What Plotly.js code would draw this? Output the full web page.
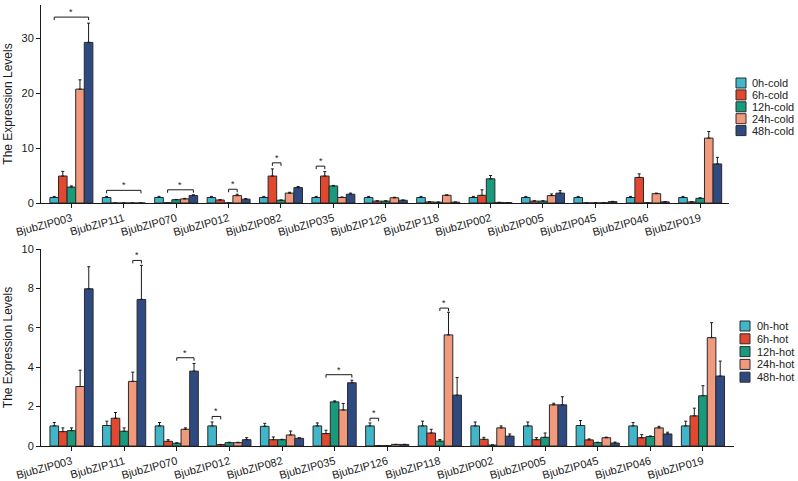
<!DOCTYPE html>
<html>
<head>
<meta charset="utf-8">
<script src="https://cdn.plot.ly/plotly-3.0.1.min.js"></script>
<style>html,body{margin:0;padding:0;background:#fff;}#chart{width:798px;height:481px;}</style>
</head>
<body>
<div id="chart"></div>
<script>
// ---------- DATA ----------
const genes = ["BjubZIP003","BjubZIP111","BjubZIP070","BjubZIP012","BjubZIP082","BjubZIP035","BjubZIP126","BjubZIP118","BjubZIP002","BjubZIP005","BjubZIP045","BjubZIP046","BjubZIP019"];
const coldNames = ["0h-cold","6h-cold","12h-cold","24h-cold","48h-cold"];
const hotNames = ["0h-hot","6h-hot","12h-hot","24h-hot","48h-hot"];
const colors = ["#41B6C9","#E1482F","#1A9A7D","#F0997C","#2F4A80"];

// cold values (per time point, per gene)
const cold0h  = [1.0, 1.0, 1.0, 1.0, 1.0, 1.0, 1.0, 1.0, 1.0, 1.0, 1.0, 1.0, 1.0];
const cold6h  = [4.9, 0.0, 0.05, 0.55, 4.9, 4.9, 0.35, 0.2, 1.4, 0.35, 0.02, 4.65, 0.2];
const cold12h = [2.9, 0.0, 0.6, 0.03, 0.5, 3.1, 0.35, 0.15, 4.4, 0.35, 0.02, 0.03, 0.85];
const cold24h = [20.7, 0.0, 0.75, 1.35, 1.8, 1.0, 0.95, 1.4, 0.1, 1.35, 0.05, 1.7, 11.8];
const cold48h = [29.2, 0.0, 1.35, 0.7, 2.8, 1.6, 0.5, 0.15, 0.05, 1.8, 0.25, 0.2, 7.1];
const cold0hErr  = [0.2, 0.2, 0.2, 0.2, 0.2, 0.2, 0.2, 0.2, 0.2, 0.2, 0.2, 0.2, 0.2];
const cold6hErr  = [0.85, 0, 0, 0.05, 1.3, 0.8, 0.05, 0.02, 1.0, 0.05, 0, 0.65, 0.05];
const cold12hErr = [0.2, 0, 0.05, 0, 0.05, 0.1, 0.05, 0.02, 0.6, 0.05, 0, 0, 0.1];
const cold24hErr = [1.7, 0, 0.1, 0.25, 0.15, 0.1, 0.1, 0.1, 0.02, 0.3, 0, 0.1, 1.2];
const cold48hErr = [3.5, 0, 0.15, 0.1, 0.2, 0.2, 0.05, 0.02, 0.02, 0.45, 0.05, 0.05, 1.2];

// hot values
const hot0h  = [1.02, 1.04, 1.02, 1.02, 1.0, 1.02, 1.02, 1.02, 1.02, 1.02, 1.04, 1.02, 1.02];
const hot6h  = [0.73, 1.41, 0.24, 0.07, 0.32, 0.63, 0.02, 0.66, 0.34, 0.32, 0.31, 0.42, 1.53];
const hot12h = [0.78, 0.75, 0.14, 0.17, 0.32, 2.24, 0.02, 0.25, 0.05, 0.44, 0.17, 0.48, 2.55];
const hot24h = [3.02, 3.28, 0.85, 0.17, 0.56, 1.83, 0.08, 5.64, 0.92, 2.09, 0.42, 0.92, 5.5];
const hot48h = [7.98, 7.44, 3.8, 0.32, 0.39, 3.21, 0.08, 2.58, 0.5, 2.09, 0.15, 0.61, 3.55];
const hot0hErr  = [0.17, 0.22, 0.17, 0.2, 0.15, 0.15, 0.15, 0.24, 0.2, 0.2, 0.25, 0.17, 0.24];
const hot6hErr  = [0.19, 0.29, 0.08, 0.01, 0.14, 0.17, 0, 0.19, 0.1, 0.1, 0.05, 0.16, 0.39];
const hot12hErr = [0.14, 0.17, 0.02, 0.02, 0.02, 0.05, 0, 0.08, 0, 0.22, 0.02, 0.03, 0.51];
const hot24hErr = [0.83, 0.47, 0.07, 0.02, 0.2, 0.33, 0, 1.15, 0.1, 0.08, 0.03, 0.08, 0.76];
const hot48hErr = [1.12, 1.73, 0.39, 0.1, 0.03, 0.13, 0, 0.9, 0.11, 0.41, 0.05, 0.09, 0.76];

// significance brackets: [gene index, from series, to series, y level]
const coldSig = [[0,0,4,33.8],[1,0,4,2.3],[2,1,4,2.4],[3,2,3,2.5],[4,1,2,7.3],[5,0,1,6.7]];
const hotSig  = [[1,3,4,9.42],[2,2,4,4.48],[3,0,1,1.5],[5,1,4,3.62],[6,0,1,1.41],[7,2,3,7.0]];

// ---------- CHART ----------
const coldVals = [cold0h, cold6h, cold12h, cold24h, cold48h];
const coldErrs = [cold0hErr, cold6hErr, cold12hErr, cold24hErr, cold48hErr];
const hotVals = [hot0h, hot6h, hot12h, hot24h, hot48h];
const hotErrs = [hot0hErr, hot6hErr, hot12hErr, hot24hErr, hot48hErr];

const W = 798, H = 481;
const M = {l: 41, r: 64, t: 5, b: 35};
const plotW = W - M.l - M.r, plotH = H - M.t - M.b;
const bargap = 0.18;
const barW = (1 - bargap) / 5;

const topDomain = [(H - M.b - 203) / plotH, 1];
const botDomain = [0, (H - M.b - 249) / plotH];
const topRange = [0, 36], botRange = [0, 10];

const traces = [];
function addSeries(vals, errs, names, xa, ya) {
  vals.forEach((v, k) => {
    traces.push({
      type: 'bar', x: genes, y: v, name: names[k], xaxis: xa, yaxis: ya,
      showlegend: false,
      marker: {color: colors[k], line: {color: '#2a2a2a', width: 1}},
      error_y: {type: 'data', symmetric: false, array: errs[k], arrayminus: v.map(() => 0),
                color: '#1a1a1a', thickness: 1, width: 1.5}
    });
  });
}
addSeries(coldVals, coldErrs, coldNames, 'x', 'y');
addSeries(hotVals, hotErrs, hotNames, 'x2', 'y2');

const shapes = [], annotations = [];
function addSig(list, xref, yref, range, domain) {
  const pxPerUnit = (domain[1] - domain[0]) * plotH / (range[1] - range[0]);
  const tick = 3 / pxPerUnit;
  list.forEach(([g, a, b, y]) => {
    const xa = g + (a - 2) * barW, xb = g + (b - 2) * barW;
    shapes.push({type: 'path', xref, yref,
      path: `M ${xa} ${y - tick} L ${xa} ${y} L ${xb} ${y} L ${xb} ${y - tick}`,
      line: {color: '#1a1a1a', width: 1}});
    annotations.push({xref, yref, x: (xa + xb) / 2, y: y, text: '*', showarrow: false,
      yanchor: 'bottom', yshift: -2, font: {size: 9, color: '#1a1a1a'}});
  });
}
addSig(coldSig, 'x', 'y', topRange, topDomain);
addSig(hotSig, 'x2', 'y2', botRange, botDomain);

// custom compact legends
function addLegend(names, left, top, step, textX) {
  names.forEach((n, k) => {
    const y0 = top + k * step;
    shapes.push({type: 'rect', xref: 'paper', yref: 'paper',
      x0: (left - M.l) / plotW, x1: (left + 10 - M.l) / plotW,
      y0: (H - M.b - y0) / plotH, y1: (H - M.b - y0 - 10) / plotH,
      fillcolor: colors[k], line: {color: '#2a2a2a', width: 1}});
    annotations.push({xref: 'paper', yref: 'paper', x: (textX - M.l) / plotW,
      y: (H - M.b - y0 - 5) / plotH, text: n, showarrow: false,
      xanchor: 'left', yanchor: 'middle', font: {size: 11, color: '#222'}});
  });
}
addLegend(coldNames, 736, 78, 11.9, 750);
addLegend(hotNames, 740, 321, 12.8, 755);

const font = {family: 'Arial, "Liberation Sans", Helvetica, sans-serif', color: '#1a1a1a'};
const xBase = {type: 'category', showline: true, linecolor: '#1a1a1a', linewidth: 1,
  ticks: 'outside', ticklen: 4, tickcolor: '#1a1a1a', tickangle: -15,
  tickfont: {size: 11, color: '#1a1a1a'}, showgrid: false, zeroline: false, fixedrange: true};
const yBase = {showline: true, linecolor: '#1a1a1a', linewidth: 1, ticks: 'outside', ticklen: 4,
  tickcolor: '#1a1a1a', tickfont: {size: 11, color: '#1a1a1a'}, showgrid: false, zeroline: false,
  title: {text: 'The Expression Levels', font: {size: 12, color: '#1a1a1a'}, standoff: 6}};

const layout = {
  width: W, height: H, margin: M, paper_bgcolor: '#fff', plot_bgcolor: '#fff', font,
  barmode: 'group', bargap: bargap, bargroupgap: 0, showlegend: false,
  xaxis: Object.assign({}, xBase, {domain: [0, (729 - M.l) / plotW], anchor: 'y', range: [-0.58, 12.55]}),
  yaxis: Object.assign({}, yBase, {domain: topDomain, anchor: 'x', range: topRange, tickvals: [0,10,20,30]}),
  xaxis2: Object.assign({}, xBase, {domain: [0, 1], anchor: 'y2', range: [-0.58, 12.59]}),
  yaxis2: Object.assign({}, yBase, {domain: botDomain, anchor: 'x2', range: botRange, tickvals: [0,2,4,6,8,10]}),
  shapes, annotations
};
Plotly.newPlot('chart', traces, layout, {displayModeBar: false, staticPlot: true});
</script>
</body>
</html>
